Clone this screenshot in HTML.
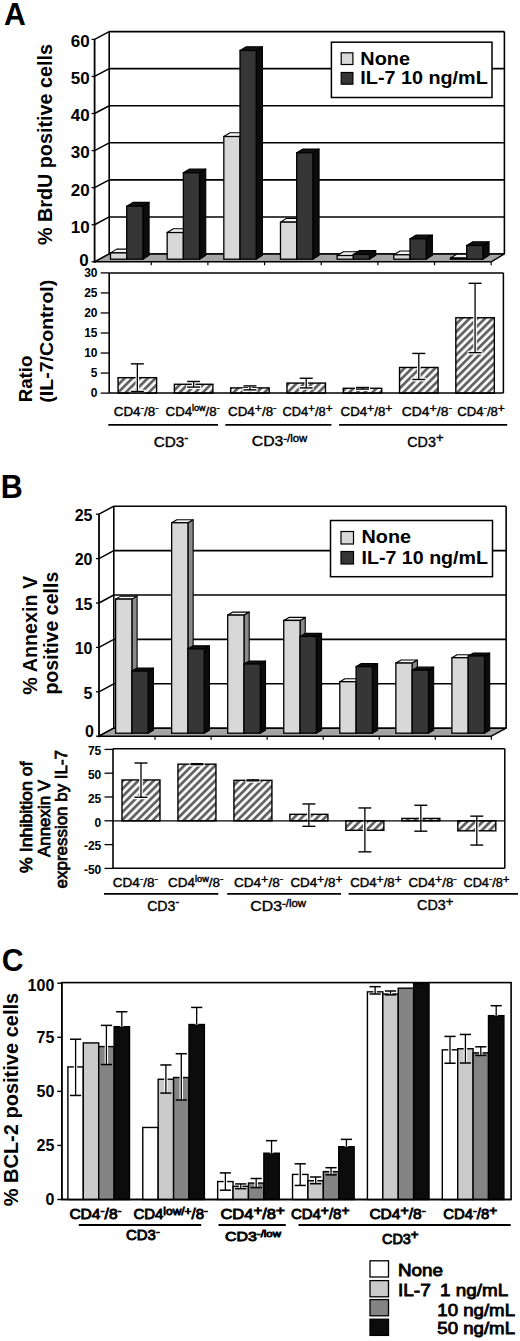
<!DOCTYPE html><html><head><meta charset="utf-8"><style>html,body{margin:0;padding:0;background:#fff;}svg{display:block;font-family:"Liberation Sans", sans-serif;}</style></head><body>
<svg width="520" height="1341" viewBox="0 0 520 1341" font-family="&quot;Liberation Sans&quot;, sans-serif">
<defs><pattern id="hatch" patternUnits="userSpaceOnUse" width="5.45" height="5.45" patternTransform="rotate(45)"><rect width="5.45" height="5.45" fill="#f6f6f6"/><rect width="2.6" height="5.45" fill="#5e5e5e"/></pattern></defs>
<rect width="520" height="1341" fill="#fff"/>
<text x="4" y="25" font-size="32" font-weight="bold" text-anchor="start" textLength="21.8" lengthAdjust="spacingAndGlyphs">A</text>
<text transform="translate(51.8,144.6) rotate(-90)" x="0" y="0" font-size="19.5" font-weight="bold" text-anchor="middle" textLength="201" lengthAdjust="spacingAndGlyphs">% BrdU positive cells</text>
<rect x="109.2" y="31.58" width="395.2" height="222.42" fill="#fff"/>
<line x1="109.2" y1="254" x2="504.4" y2="254" stroke="#000" stroke-width="1.6"/>
<line x1="94.6" y1="261.8" x2="109.2" y2="254" stroke="#000" stroke-width="1.5"/>
<line x1="91.6" y1="261.8" x2="94.6" y2="261.8" stroke="#000" stroke-width="1.3"/>
<text x="88.6" y="266.39" font-size="17" font-weight="bold" text-anchor="end" >0</text>
<line x1="109.2" y1="216.93" x2="504.4" y2="216.93" stroke="#000" stroke-width="1.6"/>
<line x1="94.6" y1="224.73" x2="109.2" y2="216.93" stroke="#000" stroke-width="1.5"/>
<line x1="91.6" y1="224.73" x2="94.6" y2="224.73" stroke="#000" stroke-width="1.3"/>
<text x="89.6" y="232.62" font-size="17" font-weight="bold" text-anchor="end" >10</text>
<line x1="109.2" y1="179.86" x2="504.4" y2="179.86" stroke="#000" stroke-width="1.6"/>
<line x1="94.6" y1="187.66" x2="109.2" y2="179.86" stroke="#000" stroke-width="1.5"/>
<line x1="91.6" y1="187.66" x2="94.6" y2="187.66" stroke="#000" stroke-width="1.3"/>
<text x="89.6" y="195.55" font-size="17" font-weight="bold" text-anchor="end" >20</text>
<line x1="109.2" y1="142.79" x2="504.4" y2="142.79" stroke="#000" stroke-width="1.6"/>
<line x1="94.6" y1="150.59" x2="109.2" y2="142.79" stroke="#000" stroke-width="1.5"/>
<line x1="91.6" y1="150.59" x2="94.6" y2="150.59" stroke="#000" stroke-width="1.3"/>
<text x="89.6" y="158.48" font-size="17" font-weight="bold" text-anchor="end" >30</text>
<line x1="109.2" y1="105.72" x2="504.4" y2="105.72" stroke="#000" stroke-width="1.6"/>
<line x1="94.6" y1="113.52" x2="109.2" y2="105.72" stroke="#000" stroke-width="1.5"/>
<line x1="91.6" y1="113.52" x2="94.6" y2="113.52" stroke="#000" stroke-width="1.3"/>
<text x="89.6" y="121.41" font-size="17" font-weight="bold" text-anchor="end" >40</text>
<line x1="109.2" y1="68.65" x2="504.4" y2="68.65" stroke="#000" stroke-width="1.6"/>
<line x1="94.6" y1="76.45" x2="109.2" y2="68.65" stroke="#000" stroke-width="1.5"/>
<line x1="91.6" y1="76.45" x2="94.6" y2="76.45" stroke="#000" stroke-width="1.3"/>
<text x="89.6" y="84.34" font-size="17" font-weight="bold" text-anchor="end" >50</text>
<line x1="109.2" y1="31.58" x2="504.4" y2="31.58" stroke="#000" stroke-width="1.6"/>
<line x1="94.6" y1="39.38" x2="109.2" y2="31.58" stroke="#000" stroke-width="1.5"/>
<line x1="91.6" y1="39.38" x2="94.6" y2="39.38" stroke="#000" stroke-width="1.3"/>
<text x="89.6" y="47.27" font-size="17" font-weight="bold" text-anchor="end" >60</text>
<line x1="109.2" y1="31.58" x2="109.2" y2="254" stroke="#000" stroke-width="1.6"/>
<line x1="504.4" y1="31.58" x2="504.4" y2="254" stroke="#000" stroke-width="1.6"/>
<line x1="94.6" y1="39.38" x2="94.6" y2="262.8" stroke="#000" stroke-width="1.8"/>
<polygon points="94.6,261.8 491.22,261.8 504.4,254 109.2,254" fill="#a4a4a4" stroke="#000" stroke-width="1.4" stroke-linejoin="round"/>
<line x1="151.26" y1="261.8" x2="151.26" y2="265.3" stroke="#000" stroke-width="1.2"/>
<line x1="207.92" y1="261.8" x2="207.92" y2="265.3" stroke="#000" stroke-width="1.2"/>
<line x1="264.58" y1="261.8" x2="264.58" y2="265.3" stroke="#000" stroke-width="1.2"/>
<line x1="321.24" y1="261.8" x2="321.24" y2="265.3" stroke="#000" stroke-width="1.2"/>
<line x1="377.9" y1="261.8" x2="377.9" y2="265.3" stroke="#000" stroke-width="1.2"/>
<line x1="434.56" y1="261.8" x2="434.56" y2="265.3" stroke="#000" stroke-width="1.2"/>
<line x1="491.22" y1="261.8" x2="491.22" y2="265.3" stroke="#000" stroke-width="1.2"/>
<polygon points="126.7,259.2 132.9,255.4 132.9,249.1 126.7,252.9" fill="#8a8a8a" stroke="#000" stroke-width="1.1" stroke-linejoin="round"/>
<polygon points="110.5,252.9 116.7,249.1 132.9,249.1 126.7,252.9" fill="#f4f4f4" stroke="#000" stroke-width="1.1" stroke-linejoin="round"/>
<rect x="110.5" y="252.9" width="16.2" height="6.3" fill="#d8d8d8" stroke="#000" stroke-width="1.3"/>
<polygon points="142.9,259.2 149.1,255.4 149.1,202.39 142.9,206.19" fill="#0c0c0c" stroke="#000" stroke-width="1.1" stroke-linejoin="round"/>
<polygon points="126.7,206.19 132.9,202.39 149.1,202.39 142.9,206.19" fill="#111" stroke="#000" stroke-width="1.1" stroke-linejoin="round"/>
<rect x="126.7" y="206.19" width="16.2" height="53.01" fill="#363636" stroke="#000" stroke-width="1.3"/>
<polygon points="183.36,259.2 189.56,255.4 189.56,228.71 183.36,232.51" fill="#8a8a8a" stroke="#000" stroke-width="1.1" stroke-linejoin="round"/>
<polygon points="167.16,232.51 173.36,228.71 189.56,228.71 183.36,232.51" fill="#f4f4f4" stroke="#000" stroke-width="1.1" stroke-linejoin="round"/>
<rect x="167.16" y="232.51" width="16.2" height="26.69" fill="#d8d8d8" stroke="#000" stroke-width="1.3"/>
<polygon points="199.56,259.2 205.76,255.4 205.76,169.03 199.56,172.83" fill="#0c0c0c" stroke="#000" stroke-width="1.1" stroke-linejoin="round"/>
<polygon points="183.36,172.83 189.56,169.03 205.76,169.03 199.56,172.83" fill="#111" stroke="#000" stroke-width="1.1" stroke-linejoin="round"/>
<rect x="183.36" y="172.83" width="16.2" height="86.37" fill="#363636" stroke="#000" stroke-width="1.3"/>
<polygon points="240.02,259.2 246.22,255.4 246.22,132.7 240.02,136.5" fill="#8a8a8a" stroke="#000" stroke-width="1.1" stroke-linejoin="round"/>
<polygon points="223.82,136.5 230.02,132.7 246.22,132.7 240.02,136.5" fill="#f4f4f4" stroke="#000" stroke-width="1.1" stroke-linejoin="round"/>
<rect x="223.82" y="136.5" width="16.2" height="122.7" fill="#d8d8d8" stroke="#000" stroke-width="1.3"/>
<polygon points="256.22,259.2 262.42,255.4 262.42,46.7 256.22,50.5" fill="#0c0c0c" stroke="#000" stroke-width="1.1" stroke-linejoin="round"/>
<polygon points="240.02,50.5 246.22,46.7 262.42,46.7 256.22,50.5" fill="#111" stroke="#000" stroke-width="1.1" stroke-linejoin="round"/>
<rect x="240.02" y="50.5" width="16.2" height="208.7" fill="#363636" stroke="#000" stroke-width="1.3"/>
<polygon points="296.68,259.2 302.88,255.4 302.88,218.33 296.68,222.13" fill="#8a8a8a" stroke="#000" stroke-width="1.1" stroke-linejoin="round"/>
<polygon points="280.48,222.13 286.68,218.33 302.88,218.33 296.68,222.13" fill="#f4f4f4" stroke="#000" stroke-width="1.1" stroke-linejoin="round"/>
<rect x="280.48" y="222.13" width="16.2" height="37.07" fill="#d8d8d8" stroke="#000" stroke-width="1.3"/>
<polygon points="312.88,259.2 319.08,255.4 319.08,149.01 312.88,152.81" fill="#0c0c0c" stroke="#000" stroke-width="1.1" stroke-linejoin="round"/>
<polygon points="296.68,152.81 302.88,149.01 319.08,149.01 312.88,152.81" fill="#111" stroke="#000" stroke-width="1.1" stroke-linejoin="round"/>
<rect x="296.68" y="152.81" width="16.2" height="106.39" fill="#363636" stroke="#000" stroke-width="1.3"/>
<polygon points="353.34,259.2 359.54,255.4 359.54,251.69 353.34,255.49" fill="#8a8a8a" stroke="#000" stroke-width="1.1" stroke-linejoin="round"/>
<polygon points="337.14,255.49 343.34,251.69 359.54,251.69 353.34,255.49" fill="#f4f4f4" stroke="#000" stroke-width="1.1" stroke-linejoin="round"/>
<rect x="337.14" y="255.49" width="16.2" height="3.71" fill="#d8d8d8" stroke="#000" stroke-width="1.3"/>
<polygon points="369.54,259.2 375.74,255.4 375.74,250.58 369.54,254.38" fill="#0c0c0c" stroke="#000" stroke-width="1.1" stroke-linejoin="round"/>
<polygon points="353.34,254.38 359.54,250.58 375.74,250.58 369.54,254.38" fill="#111" stroke="#000" stroke-width="1.1" stroke-linejoin="round"/>
<rect x="353.34" y="254.38" width="16.2" height="4.82" fill="#363636" stroke="#000" stroke-width="1.3"/>
<polygon points="410,259.2 416.2,255.4 416.2,250.95 410,254.75" fill="#8a8a8a" stroke="#000" stroke-width="1.1" stroke-linejoin="round"/>
<polygon points="393.8,254.75 400,250.95 416.2,250.95 410,254.75" fill="#f4f4f4" stroke="#000" stroke-width="1.1" stroke-linejoin="round"/>
<rect x="393.8" y="254.75" width="16.2" height="4.45" fill="#d8d8d8" stroke="#000" stroke-width="1.3"/>
<polygon points="426.2,259.2 432.4,255.4 432.4,235.01 426.2,238.81" fill="#0c0c0c" stroke="#000" stroke-width="1.1" stroke-linejoin="round"/>
<polygon points="410,238.81 416.2,235.01 432.4,235.01 426.2,238.81" fill="#111" stroke="#000" stroke-width="1.1" stroke-linejoin="round"/>
<rect x="410" y="238.81" width="16.2" height="20.39" fill="#363636" stroke="#000" stroke-width="1.3"/>
<polygon points="466.66,259.2 472.86,255.4 472.86,254.29 466.66,258.09" fill="#8a8a8a" stroke="#000" stroke-width="1.1" stroke-linejoin="round"/>
<polygon points="450.46,258.09 456.66,254.29 472.86,254.29 466.66,258.09" fill="#f4f4f4" stroke="#000" stroke-width="1.1" stroke-linejoin="round"/>
<rect x="450.46" y="258.09" width="16.2" height="1.11" fill="#d8d8d8" stroke="#000" stroke-width="1.3"/>
<polygon points="482.86,259.2 489.06,255.4 489.06,241.68 482.86,245.48" fill="#0c0c0c" stroke="#000" stroke-width="1.1" stroke-linejoin="round"/>
<polygon points="466.66,245.48 472.86,241.68 489.06,241.68 482.86,245.48" fill="#111" stroke="#000" stroke-width="1.1" stroke-linejoin="round"/>
<rect x="466.66" y="245.48" width="16.2" height="13.72" fill="#363636" stroke="#000" stroke-width="1.3"/>
<rect x="331.4" y="42.2" width="160.6" height="55.3" fill="#fff" stroke="#000" stroke-width="1.5"/>
<rect x="341.2" y="52.8" width="11.7" height="11.7" fill="#d8d8d8" stroke="#000" stroke-width="1.2"/>
<rect x="341.2" y="72.5" width="11.7" height="11.7" fill="#363636" stroke="#000" stroke-width="1.2"/>
<text x="360.3" y="64.6" font-size="19" font-weight="bold" text-anchor="start" textLength="49.7" lengthAdjust="spacingAndGlyphs">None</text>
<text x="360.3" y="84.3" font-size="19" font-weight="bold" text-anchor="start" textLength="127.5" lengthAdjust="spacingAndGlyphs">IL-7 10 ng/mL</text>
<text transform="translate(31.5,379) rotate(-90)" x="0" y="0" font-size="19" font-weight="bold" text-anchor="middle" textLength="46.7" lengthAdjust="spacingAndGlyphs">Ratio</text>
<text transform="translate(53.3,341.3) rotate(-90)" x="0" y="0" font-size="19" font-weight="bold" text-anchor="middle" textLength="123" lengthAdjust="spacingAndGlyphs">(IL-7/Control)</text>
<rect x="109.2" y="272.9" width="394.2" height="120.2" fill="#fff" stroke="none"/>
<line x1="100.7" y1="393.1" x2="109.2" y2="393.1" stroke="#000" stroke-width="1.3"/>
<text x="97.5" y="397.42" font-size="12" font-weight="bold" text-anchor="end" >0</text>
<line x1="100.7" y1="373.07" x2="109.2" y2="373.07" stroke="#000" stroke-width="1.3"/>
<text x="97.5" y="377.39" font-size="12" font-weight="bold" text-anchor="end" >5</text>
<line x1="100.7" y1="353.03" x2="109.2" y2="353.03" stroke="#000" stroke-width="1.3"/>
<text x="97.5" y="357.35" font-size="12" font-weight="bold" text-anchor="end" >10</text>
<line x1="100.7" y1="333" x2="109.2" y2="333" stroke="#000" stroke-width="1.3"/>
<text x="97.5" y="337.31" font-size="12" font-weight="bold" text-anchor="end" >15</text>
<line x1="100.7" y1="312.96" x2="109.2" y2="312.96" stroke="#000" stroke-width="1.3"/>
<text x="97.5" y="317.28" font-size="12" font-weight="bold" text-anchor="end" >20</text>
<line x1="100.7" y1="292.93" x2="109.2" y2="292.93" stroke="#000" stroke-width="1.3"/>
<text x="97.5" y="297.25" font-size="12" font-weight="bold" text-anchor="end" >25</text>
<line x1="100.7" y1="272.89" x2="109.2" y2="272.89" stroke="#000" stroke-width="1.3"/>
<text x="97.5" y="277.21" font-size="12" font-weight="bold" text-anchor="end" >30</text>
<rect x="118.09" y="377.67" width="38.5" height="15.43" fill="url(#hatch)" stroke="#000" stroke-width="1.4"/>
<line x1="137.34" y1="363.85" x2="137.34" y2="391.5" stroke="#fff" stroke-width="3.6"/>
<line x1="129.84" y1="391.5" x2="144.84" y2="391.5" stroke="#fff" stroke-width="3.8"/>
<line x1="137.34" y1="363.85" x2="137.34" y2="391.5" stroke="#000" stroke-width="1.3"/>
<line x1="130.84" y1="363.85" x2="143.84" y2="363.85" stroke="#000" stroke-width="1.4"/>
<line x1="130.84" y1="391.5" x2="143.84" y2="391.5" stroke="#000" stroke-width="1.4"/>
<rect x="174.38" y="384.28" width="38.5" height="8.82" fill="url(#hatch)" stroke="#000" stroke-width="1.4"/>
<line x1="193.63" y1="381.48" x2="193.63" y2="387.09" stroke="#fff" stroke-width="3.6"/>
<line x1="186.13" y1="387.09" x2="201.13" y2="387.09" stroke="#fff" stroke-width="3.8"/>
<line x1="193.63" y1="381.48" x2="193.63" y2="387.09" stroke="#000" stroke-width="1.3"/>
<line x1="187.13" y1="381.48" x2="200.13" y2="381.48" stroke="#000" stroke-width="1.4"/>
<line x1="187.13" y1="387.09" x2="200.13" y2="387.09" stroke="#000" stroke-width="1.4"/>
<rect x="230.68" y="387.89" width="38.5" height="5.21" fill="url(#hatch)" stroke="#000" stroke-width="1.4"/>
<line x1="249.93" y1="385.89" x2="249.93" y2="389.89" stroke="#fff" stroke-width="3.6"/>
<line x1="242.43" y1="389.89" x2="257.43" y2="389.89" stroke="#fff" stroke-width="3.8"/>
<line x1="249.93" y1="385.89" x2="249.93" y2="389.89" stroke="#000" stroke-width="1.3"/>
<line x1="243.43" y1="385.89" x2="256.43" y2="385.89" stroke="#000" stroke-width="1.4"/>
<line x1="243.43" y1="389.89" x2="256.43" y2="389.89" stroke="#000" stroke-width="1.4"/>
<rect x="286.96" y="383.08" width="38.5" height="10.02" fill="url(#hatch)" stroke="#000" stroke-width="1.4"/>
<line x1="306.21" y1="378.27" x2="306.21" y2="387.89" stroke="#fff" stroke-width="3.6"/>
<line x1="298.71" y1="387.89" x2="313.71" y2="387.89" stroke="#fff" stroke-width="3.8"/>
<line x1="306.21" y1="378.27" x2="306.21" y2="387.89" stroke="#000" stroke-width="1.3"/>
<line x1="299.71" y1="378.27" x2="312.71" y2="378.27" stroke="#000" stroke-width="1.4"/>
<line x1="299.71" y1="387.89" x2="312.71" y2="387.89" stroke="#000" stroke-width="1.4"/>
<rect x="343.25" y="388.29" width="38.5" height="4.81" fill="url(#hatch)" stroke="#000" stroke-width="1.4"/>
<line x1="362.5" y1="387.49" x2="362.5" y2="389.09" stroke="#fff" stroke-width="3.6"/>
<line x1="355" y1="389.09" x2="370" y2="389.09" stroke="#fff" stroke-width="3.8"/>
<line x1="362.5" y1="387.49" x2="362.5" y2="389.09" stroke="#000" stroke-width="1.3"/>
<line x1="356" y1="387.49" x2="369" y2="387.49" stroke="#000" stroke-width="1.4"/>
<line x1="356" y1="389.09" x2="369" y2="389.09" stroke="#000" stroke-width="1.4"/>
<rect x="399.54" y="367.46" width="38.5" height="25.64" fill="url(#hatch)" stroke="#000" stroke-width="1.4"/>
<line x1="418.79" y1="353.43" x2="418.79" y2="379.48" stroke="#fff" stroke-width="3.6"/>
<line x1="411.29" y1="379.48" x2="426.29" y2="379.48" stroke="#fff" stroke-width="3.8"/>
<line x1="418.79" y1="353.43" x2="418.79" y2="379.48" stroke="#000" stroke-width="1.3"/>
<line x1="412.29" y1="353.43" x2="425.29" y2="353.43" stroke="#000" stroke-width="1.4"/>
<line x1="412.29" y1="379.48" x2="425.29" y2="379.48" stroke="#000" stroke-width="1.4"/>
<rect x="455.83" y="317.77" width="38.5" height="75.33" fill="url(#hatch)" stroke="#000" stroke-width="1.4"/>
<line x1="475.08" y1="283.31" x2="475.08" y2="352.63" stroke="#fff" stroke-width="3.6"/>
<line x1="467.58" y1="352.63" x2="482.58" y2="352.63" stroke="#fff" stroke-width="3.8"/>
<line x1="475.08" y1="283.31" x2="475.08" y2="352.63" stroke="#000" stroke-width="1.3"/>
<line x1="468.58" y1="283.31" x2="481.58" y2="283.31" stroke="#000" stroke-width="1.4"/>
<line x1="468.58" y1="352.63" x2="481.58" y2="352.63" stroke="#000" stroke-width="1.4"/>
<line x1="109.2" y1="272.9" x2="503.4" y2="272.9" stroke="#000" stroke-width="1.5"/>
<line x1="503.4" y1="272.9" x2="503.4" y2="393.1" stroke="#000" stroke-width="1.5"/>
<line x1="109.2" y1="393.1" x2="503.4" y2="393.1" stroke="#000" stroke-width="1.5"/>
<line x1="109.2" y1="272.9" x2="109.2" y2="393.1" stroke="#000" stroke-width="1.6"/>
<text x="0.8" y="498" font-size="32.5" font-weight="bold" text-anchor="start" textLength="22" lengthAdjust="spacingAndGlyphs">B</text>
<text transform="translate(36.7,635.2) rotate(-90)" x="0" y="0" font-size="19.5" font-weight="bold" text-anchor="middle" textLength="119" lengthAdjust="spacingAndGlyphs">% Annexin V</text>
<text transform="translate(57.7,633.1) rotate(-90)" x="0" y="0" font-size="19.5" font-weight="bold" text-anchor="middle" textLength="123" lengthAdjust="spacingAndGlyphs">positive cells</text>
<rect x="113.8" y="506.2" width="392.35" height="222" fill="#fff"/>
<line x1="113.8" y1="728.2" x2="506.15" y2="728.2" stroke="#000" stroke-width="1.6"/>
<line x1="99" y1="736.2" x2="113.8" y2="728.2" stroke="#000" stroke-width="1.5"/>
<line x1="96" y1="736.2" x2="99" y2="736.2" stroke="#000" stroke-width="1.3"/>
<text x="94" y="736.73" font-size="16" font-weight="bold" text-anchor="end" >0</text>
<line x1="113.8" y1="683.8" x2="506.15" y2="683.8" stroke="#000" stroke-width="1.6"/>
<line x1="99" y1="691.8" x2="113.8" y2="683.8" stroke="#000" stroke-width="1.5"/>
<line x1="96" y1="691.8" x2="99" y2="691.8" stroke="#000" stroke-width="1.3"/>
<text x="92.5" y="698.53" font-size="16" font-weight="bold" text-anchor="end" >5</text>
<line x1="113.8" y1="639.4" x2="506.15" y2="639.4" stroke="#000" stroke-width="1.6"/>
<line x1="99" y1="647.4" x2="113.8" y2="639.4" stroke="#000" stroke-width="1.5"/>
<line x1="96" y1="647.4" x2="99" y2="647.4" stroke="#000" stroke-width="1.3"/>
<text x="92.5" y="654.13" font-size="16" font-weight="bold" text-anchor="end" >10</text>
<line x1="113.8" y1="595" x2="506.15" y2="595" stroke="#000" stroke-width="1.6"/>
<line x1="99" y1="603" x2="113.8" y2="595" stroke="#000" stroke-width="1.5"/>
<line x1="96" y1="603" x2="99" y2="603" stroke="#000" stroke-width="1.3"/>
<text x="92.5" y="609.73" font-size="16" font-weight="bold" text-anchor="end" >15</text>
<line x1="113.8" y1="550.6" x2="506.15" y2="550.6" stroke="#000" stroke-width="1.6"/>
<line x1="99" y1="558.6" x2="113.8" y2="550.6" stroke="#000" stroke-width="1.5"/>
<line x1="96" y1="558.6" x2="99" y2="558.6" stroke="#000" stroke-width="1.3"/>
<text x="92.5" y="565.33" font-size="16" font-weight="bold" text-anchor="end" >20</text>
<line x1="113.8" y1="506.2" x2="506.15" y2="506.2" stroke="#000" stroke-width="1.6"/>
<line x1="99" y1="514.2" x2="113.8" y2="506.2" stroke="#000" stroke-width="1.5"/>
<line x1="96" y1="514.2" x2="99" y2="514.2" stroke="#000" stroke-width="1.3"/>
<text x="92.5" y="520.93" font-size="16" font-weight="bold" text-anchor="end" >25</text>
<line x1="113.8" y1="506.2" x2="113.8" y2="728.2" stroke="#000" stroke-width="1.6"/>
<line x1="506.15" y1="506.2" x2="506.15" y2="728.2" stroke="#000" stroke-width="1.6"/>
<line x1="99" y1="514.2" x2="99" y2="737.2" stroke="#000" stroke-width="1.8"/>
<polygon points="99,736.2 491.35,736.2 506.15,728.2 113.8,728.2" fill="#a4a4a4" stroke="#000" stroke-width="1.4" stroke-linejoin="round"/>
<line x1="155.05" y1="736.2" x2="155.05" y2="739.7" stroke="#000" stroke-width="1.2"/>
<line x1="211.1" y1="736.2" x2="211.1" y2="739.7" stroke="#000" stroke-width="1.2"/>
<line x1="267.15" y1="736.2" x2="267.15" y2="739.7" stroke="#000" stroke-width="1.2"/>
<line x1="323.2" y1="736.2" x2="323.2" y2="739.7" stroke="#000" stroke-width="1.2"/>
<line x1="379.25" y1="736.2" x2="379.25" y2="739.7" stroke="#000" stroke-width="1.2"/>
<line x1="435.3" y1="736.2" x2="435.3" y2="739.7" stroke="#000" stroke-width="1.2"/>
<line x1="491.35" y1="736.2" x2="491.35" y2="739.7" stroke="#000" stroke-width="1.2"/>
<polygon points="131.9,733.2 137.1,730.2 137.1,596.11 131.9,599.11" fill="#8a8a8a" stroke="#000" stroke-width="1.1" stroke-linejoin="round"/>
<polygon points="115.6,599.11 120.8,596.11 137.1,596.11 131.9,599.11" fill="#f4f4f4" stroke="#000" stroke-width="1.1" stroke-linejoin="round"/>
<rect x="115.6" y="599.11" width="16.3" height="134.09" fill="#d8d8d8" stroke="#000" stroke-width="1.3"/>
<polygon points="148.2,733.2 153.4,730.2 153.4,668.04 148.2,671.04" fill="#0c0c0c" stroke="#000" stroke-width="1.1" stroke-linejoin="round"/>
<polygon points="131.9,671.04 137.1,668.04 153.4,668.04 148.2,671.04" fill="#111" stroke="#000" stroke-width="1.1" stroke-linejoin="round"/>
<rect x="131.9" y="671.04" width="16.3" height="62.16" fill="#363636" stroke="#000" stroke-width="1.3"/>
<polygon points="187.95,733.2 193.15,730.2 193.15,519.74 187.95,522.74" fill="#8a8a8a" stroke="#000" stroke-width="1.1" stroke-linejoin="round"/>
<polygon points="171.65,522.74 176.85,519.74 193.15,519.74 187.95,522.74" fill="#f4f4f4" stroke="#000" stroke-width="1.1" stroke-linejoin="round"/>
<rect x="171.65" y="522.74" width="16.3" height="210.46" fill="#d8d8d8" stroke="#000" stroke-width="1.3"/>
<polygon points="204.25,733.2 209.45,730.2 209.45,645.84 204.25,648.84" fill="#0c0c0c" stroke="#000" stroke-width="1.1" stroke-linejoin="round"/>
<polygon points="187.95,648.84 193.15,645.84 209.45,645.84 204.25,648.84" fill="#111" stroke="#000" stroke-width="1.1" stroke-linejoin="round"/>
<rect x="187.95" y="648.84" width="16.3" height="84.36" fill="#363636" stroke="#000" stroke-width="1.3"/>
<polygon points="244,733.2 249.2,730.2 249.2,612.1 244,615.1" fill="#8a8a8a" stroke="#000" stroke-width="1.1" stroke-linejoin="round"/>
<polygon points="227.7,615.1 232.9,612.1 249.2,612.1 244,615.1" fill="#f4f4f4" stroke="#000" stroke-width="1.1" stroke-linejoin="round"/>
<rect x="227.7" y="615.1" width="16.3" height="118.1" fill="#d8d8d8" stroke="#000" stroke-width="1.3"/>
<polygon points="260.3,733.2 265.5,730.2 265.5,660.94 260.3,663.94" fill="#0c0c0c" stroke="#000" stroke-width="1.1" stroke-linejoin="round"/>
<polygon points="244,663.94 249.2,660.94 265.5,660.94 260.3,663.94" fill="#111" stroke="#000" stroke-width="1.1" stroke-linejoin="round"/>
<rect x="244" y="663.94" width="16.3" height="69.26" fill="#363636" stroke="#000" stroke-width="1.3"/>
<polygon points="300.05,733.2 305.25,730.2 305.25,617.42 300.05,620.42" fill="#8a8a8a" stroke="#000" stroke-width="1.1" stroke-linejoin="round"/>
<polygon points="283.75,620.42 288.95,617.42 305.25,617.42 300.05,620.42" fill="#f4f4f4" stroke="#000" stroke-width="1.1" stroke-linejoin="round"/>
<rect x="283.75" y="620.42" width="16.3" height="112.78" fill="#d8d8d8" stroke="#000" stroke-width="1.3"/>
<polygon points="316.35,733.2 321.55,730.2 321.55,633.41 316.35,636.41" fill="#0c0c0c" stroke="#000" stroke-width="1.1" stroke-linejoin="round"/>
<polygon points="300.05,636.41 305.25,633.41 321.55,633.41 316.35,636.41" fill="#111" stroke="#000" stroke-width="1.1" stroke-linejoin="round"/>
<rect x="300.05" y="636.41" width="16.3" height="96.79" fill="#363636" stroke="#000" stroke-width="1.3"/>
<polygon points="356.1,733.2 361.3,730.2 361.3,678.7 356.1,681.7" fill="#8a8a8a" stroke="#000" stroke-width="1.1" stroke-linejoin="round"/>
<polygon points="339.8,681.7 345,678.7 361.3,678.7 356.1,681.7" fill="#f4f4f4" stroke="#000" stroke-width="1.1" stroke-linejoin="round"/>
<rect x="339.8" y="681.7" width="16.3" height="51.5" fill="#d8d8d8" stroke="#000" stroke-width="1.3"/>
<polygon points="372.4,733.2 377.6,730.2 377.6,663.6 372.4,666.6" fill="#0c0c0c" stroke="#000" stroke-width="1.1" stroke-linejoin="round"/>
<polygon points="356.1,666.6 361.3,663.6 377.6,663.6 372.4,666.6" fill="#111" stroke="#000" stroke-width="1.1" stroke-linejoin="round"/>
<rect x="356.1" y="666.6" width="16.3" height="66.6" fill="#363636" stroke="#000" stroke-width="1.3"/>
<polygon points="412.15,733.2 417.35,730.2 417.35,660.05 412.15,663.05" fill="#8a8a8a" stroke="#000" stroke-width="1.1" stroke-linejoin="round"/>
<polygon points="395.85,663.05 401.05,660.05 417.35,660.05 412.15,663.05" fill="#f4f4f4" stroke="#000" stroke-width="1.1" stroke-linejoin="round"/>
<rect x="395.85" y="663.05" width="16.3" height="70.15" fill="#d8d8d8" stroke="#000" stroke-width="1.3"/>
<polygon points="428.45,733.2 433.65,730.2 433.65,667.15 428.45,670.15" fill="#0c0c0c" stroke="#000" stroke-width="1.1" stroke-linejoin="round"/>
<polygon points="412.15,670.15 417.35,667.15 433.65,667.15 428.45,670.15" fill="#111" stroke="#000" stroke-width="1.1" stroke-linejoin="round"/>
<rect x="412.15" y="670.15" width="16.3" height="63.05" fill="#363636" stroke="#000" stroke-width="1.3"/>
<polygon points="468.2,733.2 473.4,730.2 473.4,654.72 468.2,657.72" fill="#8a8a8a" stroke="#000" stroke-width="1.1" stroke-linejoin="round"/>
<polygon points="451.9,657.72 457.1,654.72 473.4,654.72 468.2,657.72" fill="#f4f4f4" stroke="#000" stroke-width="1.1" stroke-linejoin="round"/>
<rect x="451.9" y="657.72" width="16.3" height="75.48" fill="#d8d8d8" stroke="#000" stroke-width="1.3"/>
<polygon points="484.5,733.2 489.7,730.2 489.7,652.94 484.5,655.94" fill="#0c0c0c" stroke="#000" stroke-width="1.1" stroke-linejoin="round"/>
<polygon points="468.2,655.94 473.4,652.94 489.7,652.94 484.5,655.94" fill="#111" stroke="#000" stroke-width="1.1" stroke-linejoin="round"/>
<rect x="468.2" y="655.94" width="16.3" height="77.26" fill="#363636" stroke="#000" stroke-width="1.3"/>
<rect x="330.5" y="520.5" width="162" height="56.2" fill="#fff" stroke="#000" stroke-width="1.5"/>
<rect x="341" y="531.5" width="12.5" height="12.5" fill="#d8d8d8" stroke="#000" stroke-width="1.2"/>
<rect x="341" y="551.5" width="12.5" height="12.5" fill="#363636" stroke="#000" stroke-width="1.2"/>
<text x="361.5" y="542.9" font-size="19" font-weight="bold" text-anchor="start" textLength="49.5" lengthAdjust="spacingAndGlyphs">None</text>
<text x="361.5" y="563.5" font-size="19" font-weight="bold" text-anchor="start" textLength="126.5" lengthAdjust="spacingAndGlyphs">IL-7 10 ng/mL</text>
<text transform="translate(32.4,817.2) rotate(-90)" x="0" y="0" font-size="16" font-weight="normal" stroke="#000" stroke-width="0.75" text-anchor="middle" textLength="111.5" lengthAdjust="spacingAndGlyphs">% Inhibition of</text>
<text transform="translate(50,818.5) rotate(-90)" x="0" y="0" font-size="16" font-weight="normal" stroke="#000" stroke-width="0.75" text-anchor="middle" textLength="76.9" lengthAdjust="spacingAndGlyphs">Annexin V</text>
<text transform="translate(66.6,819.2) rotate(-90)" x="0" y="0" font-size="16" font-weight="normal" stroke="#000" stroke-width="0.75" text-anchor="middle" textLength="138.5" lengthAdjust="spacingAndGlyphs">expression by IL-7</text>
<rect x="113" y="748.8" width="391.8" height="119.5" fill="#fff" stroke="none"/>
<line x1="104.5" y1="749.4" x2="113" y2="749.4" stroke="#000" stroke-width="1.3"/>
<text x="101.3" y="755.22" font-size="12" font-weight="bold" text-anchor="end" >75</text>
<line x1="104.5" y1="773.2" x2="113" y2="773.2" stroke="#000" stroke-width="1.3"/>
<text x="101.3" y="779.02" font-size="12" font-weight="bold" text-anchor="end" >50</text>
<line x1="104.5" y1="797" x2="113" y2="797" stroke="#000" stroke-width="1.3"/>
<text x="101.3" y="802.82" font-size="12" font-weight="bold" text-anchor="end" >25</text>
<line x1="104.5" y1="820.8" x2="113" y2="820.8" stroke="#000" stroke-width="1.3"/>
<text x="101.3" y="826.62" font-size="12" font-weight="bold" text-anchor="end" >0</text>
<line x1="104.5" y1="844.6" x2="113" y2="844.6" stroke="#000" stroke-width="1.3"/>
<text x="101.3" y="850.42" font-size="12" font-weight="bold" text-anchor="end" >-25</text>
<line x1="104.5" y1="868.4" x2="113" y2="868.4" stroke="#000" stroke-width="1.3"/>
<text x="101.3" y="874.22" font-size="12" font-weight="bold" text-anchor="end" >-50</text>
<rect x="121.99" y="779.96" width="38" height="40.84" fill="url(#hatch)" stroke="#000" stroke-width="1.4"/>
<line x1="140.99" y1="763.01" x2="140.99" y2="797.29" stroke="#fff" stroke-width="3.6"/>
<line x1="133.49" y1="797.29" x2="148.49" y2="797.29" stroke="#fff" stroke-width="3.8"/>
<line x1="140.99" y1="763.01" x2="140.99" y2="797.29" stroke="#000" stroke-width="1.3"/>
<line x1="134.49" y1="763.01" x2="147.49" y2="763.01" stroke="#000" stroke-width="1.4"/>
<line x1="134.49" y1="797.29" x2="147.49" y2="797.29" stroke="#000" stroke-width="1.4"/>
<rect x="177.95" y="764.16" width="38" height="56.64" fill="url(#hatch)" stroke="#000" stroke-width="1.4"/>
<line x1="196.95" y1="763.68" x2="196.95" y2="764.63" stroke="#fff" stroke-width="3.6"/>
<line x1="189.45" y1="764.63" x2="204.45" y2="764.63" stroke="#fff" stroke-width="3.8"/>
<line x1="196.95" y1="763.68" x2="196.95" y2="764.63" stroke="#000" stroke-width="1.3"/>
<line x1="190.45" y1="763.68" x2="203.45" y2="763.68" stroke="#000" stroke-width="1.4"/>
<line x1="190.45" y1="764.63" x2="203.45" y2="764.63" stroke="#000" stroke-width="1.4"/>
<rect x="233.93" y="780.34" width="38" height="40.46" fill="url(#hatch)" stroke="#000" stroke-width="1.4"/>
<line x1="252.93" y1="779.86" x2="252.93" y2="780.82" stroke="#fff" stroke-width="3.6"/>
<line x1="245.43" y1="780.82" x2="260.43" y2="780.82" stroke="#fff" stroke-width="3.8"/>
<line x1="252.93" y1="779.86" x2="252.93" y2="780.82" stroke="#000" stroke-width="1.3"/>
<line x1="246.43" y1="779.86" x2="259.43" y2="779.86" stroke="#000" stroke-width="1.4"/>
<line x1="246.43" y1="780.82" x2="259.43" y2="780.82" stroke="#000" stroke-width="1.4"/>
<rect x="289.89" y="814.33" width="38" height="6.47" fill="url(#hatch)" stroke="#000" stroke-width="1.4"/>
<line x1="308.89" y1="803.95" x2="308.89" y2="826.32" stroke="#fff" stroke-width="3.6"/>
<line x1="301.39" y1="826.32" x2="316.39" y2="826.32" stroke="#fff" stroke-width="3.8"/>
<line x1="308.89" y1="803.95" x2="308.89" y2="826.32" stroke="#000" stroke-width="1.3"/>
<line x1="302.39" y1="803.95" x2="315.39" y2="803.95" stroke="#000" stroke-width="1.4"/>
<line x1="302.39" y1="826.32" x2="315.39" y2="826.32" stroke="#000" stroke-width="1.4"/>
<rect x="345.87" y="820.8" width="38" height="9.52" fill="url(#hatch)" stroke="#000" stroke-width="1.4"/>
<line x1="364.87" y1="807.95" x2="364.87" y2="851.84" stroke="#fff" stroke-width="3.6"/>
<line x1="357.37" y1="851.84" x2="372.37" y2="851.84" stroke="#fff" stroke-width="3.8"/>
<line x1="364.87" y1="807.95" x2="364.87" y2="851.84" stroke="#000" stroke-width="1.3"/>
<line x1="358.37" y1="807.95" x2="371.37" y2="807.95" stroke="#000" stroke-width="1.4"/>
<line x1="358.37" y1="851.84" x2="371.37" y2="851.84" stroke="#000" stroke-width="1.4"/>
<rect x="401.83" y="818.42" width="38" height="2.38" fill="url(#hatch)" stroke="#000" stroke-width="1.4"/>
<line x1="420.83" y1="805.28" x2="420.83" y2="831.18" stroke="#fff" stroke-width="3.6"/>
<line x1="413.33" y1="831.18" x2="428.33" y2="831.18" stroke="#fff" stroke-width="3.8"/>
<line x1="420.83" y1="805.28" x2="420.83" y2="831.18" stroke="#000" stroke-width="1.3"/>
<line x1="414.33" y1="805.28" x2="427.33" y2="805.28" stroke="#000" stroke-width="1.4"/>
<line x1="414.33" y1="831.18" x2="427.33" y2="831.18" stroke="#000" stroke-width="1.4"/>
<rect x="457.81" y="820.8" width="38" height="10" fill="url(#hatch)" stroke="#000" stroke-width="1.4"/>
<line x1="476.81" y1="816.14" x2="476.81" y2="845.08" stroke="#fff" stroke-width="3.6"/>
<line x1="469.31" y1="845.08" x2="484.31" y2="845.08" stroke="#fff" stroke-width="3.8"/>
<line x1="476.81" y1="816.14" x2="476.81" y2="845.08" stroke="#000" stroke-width="1.3"/>
<line x1="470.31" y1="816.14" x2="483.31" y2="816.14" stroke="#000" stroke-width="1.4"/>
<line x1="470.31" y1="845.08" x2="483.31" y2="845.08" stroke="#000" stroke-width="1.4"/>
<line x1="113" y1="748.8" x2="504.8" y2="748.8" stroke="#000" stroke-width="1.5"/>
<line x1="504.8" y1="748.8" x2="504.8" y2="868.3" stroke="#000" stroke-width="1.5"/>
<line x1="113" y1="868.3" x2="504.8" y2="868.3" stroke="#000" stroke-width="1.5"/>
<line x1="113" y1="748.8" x2="113" y2="868.3" stroke="#000" stroke-width="1.6"/>
<line x1="113" y1="820.8" x2="504.8" y2="820.8" stroke="#000" stroke-width="1.3"/>
<text x="113.7" y="416" font-size="12" font-weight="normal" stroke="#000" stroke-width="0.4" textLength="45.1" lengthAdjust="spacingAndGlyphs">CD4<tspan dy="-4.56" font-size="9.36">-</tspan><tspan dy="4.56" font-size="12">/8</tspan><tspan dy="-4.56" font-size="9.36">-</tspan></text>
<text x="165.6" y="416" font-size="12" font-weight="normal" stroke="#000" stroke-width="0.4" textLength="54.4" lengthAdjust="spacingAndGlyphs">CD4<tspan dy="-4.56" font-size="8.16">low</tspan><tspan dy="4.56" font-size="12">/8</tspan><tspan dy="-4.56" font-size="9.36">-</tspan></text>
<text x="228" y="416" font-size="12" font-weight="normal" stroke="#000" stroke-width="0.4" textLength="48.6" lengthAdjust="spacingAndGlyphs">CD4<tspan dy="-3.6" font-size="11.04">+</tspan><tspan dy="3.6" font-size="12">/8</tspan><tspan dy="-4.56" font-size="9.36">-</tspan></text>
<text x="282.4" y="416" font-size="12" font-weight="normal" stroke="#000" stroke-width="0.4" textLength="50.2" lengthAdjust="spacingAndGlyphs">CD4<tspan dy="-3.6" font-size="11.04">+</tspan><tspan dy="3.6" font-size="12">/8</tspan><tspan dy="-3.6" font-size="11.04">+</tspan></text>
<text x="340.6" y="416" font-size="12" font-weight="normal" stroke="#000" stroke-width="0.4" textLength="51.8" lengthAdjust="spacingAndGlyphs">CD4<tspan dy="-3.6" font-size="11.04">+</tspan><tspan dy="3.6" font-size="12">/8</tspan><tspan dy="-3.6" font-size="11.04">+</tspan></text>
<text x="401.7" y="416" font-size="12" font-weight="normal" stroke="#000" stroke-width="0.4" textLength="50.3" lengthAdjust="spacingAndGlyphs">CD4<tspan dy="-3.6" font-size="11.04">+</tspan><tspan dy="3.6" font-size="12">/8</tspan><tspan dy="-4.56" font-size="9.36">-</tspan></text>
<text x="457.3" y="416" font-size="12" font-weight="normal" stroke="#000" stroke-width="0.4" textLength="47.6" lengthAdjust="spacingAndGlyphs">CD4<tspan dy="-4.56" font-size="9.36">-</tspan><tspan dy="4.56" font-size="12">/8</tspan><tspan dy="-3.6" font-size="11.04">+</tspan></text>
<line x1="108.3" y1="424.9" x2="218" y2="424.9" stroke="#000" stroke-width="1.8"/>
<line x1="225.3" y1="424.9" x2="331.4" y2="424.9" stroke="#000" stroke-width="1.8"/>
<line x1="339.1" y1="424.9" x2="507.2" y2="424.9" stroke="#000" stroke-width="1.8"/>
<text x="153.7" y="446.6" font-size="14.2" font-weight="normal" stroke="#000" stroke-width="0.4" textLength="34.6" lengthAdjust="spacingAndGlyphs">CD3<tspan dy="-5.4" font-size="11.08">-</tspan></text>
<text x="251.8" y="445.8" font-size="14.2" font-weight="normal" stroke="#000" stroke-width="0.4" textLength="55.5" lengthAdjust="spacingAndGlyphs">CD3<tspan dy="-4.26" font-size="10.22">-/low</tspan></text>
<text x="407.3" y="446.6" font-size="14.2" font-weight="normal" stroke="#000" stroke-width="0.4" textLength="36.3" lengthAdjust="spacingAndGlyphs">CD3<tspan dy="-4.26" font-size="13.06">+</tspan></text>
<text x="112.7" y="886.8" font-size="12" font-weight="normal" stroke="#000" stroke-width="0.4" textLength="45.4" lengthAdjust="spacingAndGlyphs">CD4<tspan dy="-4.56" font-size="9.36">-</tspan><tspan dy="4.56" font-size="12">/8</tspan><tspan dy="-4.56" font-size="9.36">-</tspan></text>
<text x="168.1" y="886.8" font-size="12" font-weight="normal" stroke="#000" stroke-width="0.4" textLength="55.4" lengthAdjust="spacingAndGlyphs">CD4<tspan dy="-4.56" font-size="8.16">low</tspan><tspan dy="4.56" font-size="12">/8</tspan><tspan dy="-4.56" font-size="9.36">-</tspan></text>
<text x="233.9" y="886.8" font-size="12" font-weight="normal" stroke="#000" stroke-width="0.4" textLength="49.4" lengthAdjust="spacingAndGlyphs">CD4<tspan dy="-3.6" font-size="11.04">+</tspan><tspan dy="3.6" font-size="12">/8</tspan><tspan dy="-4.56" font-size="9.36">-</tspan></text>
<text x="290.4" y="886.8" font-size="12" font-weight="normal" stroke="#000" stroke-width="0.4" textLength="52.2" lengthAdjust="spacingAndGlyphs">CD4<tspan dy="-3.6" font-size="11.04">+</tspan><tspan dy="3.6" font-size="12">/8</tspan><tspan dy="-3.6" font-size="11.04">+</tspan></text>
<text x="350.2" y="886.8" font-size="12" font-weight="normal" stroke="#000" stroke-width="0.4" textLength="51.6" lengthAdjust="spacingAndGlyphs">CD4<tspan dy="-3.6" font-size="11.04">+</tspan><tspan dy="3.6" font-size="12">/8</tspan><tspan dy="-3.6" font-size="11.04">+</tspan></text>
<text x="408.5" y="886.8" font-size="12" font-weight="normal" stroke="#000" stroke-width="0.4" textLength="48.3" lengthAdjust="spacingAndGlyphs">CD4<tspan dy="-3.6" font-size="11.04">+</tspan><tspan dy="3.6" font-size="12">/8</tspan><tspan dy="-4.56" font-size="9.36">-</tspan></text>
<text x="463.5" y="886.8" font-size="12" font-weight="normal" stroke="#000" stroke-width="0.4" textLength="46.2" lengthAdjust="spacingAndGlyphs">CD4<tspan dy="-4.56" font-size="9.36">-</tspan><tspan dy="4.56" font-size="12">/8</tspan><tspan dy="-3.6" font-size="11.04">+</tspan></text>
<line x1="104" y1="893.9" x2="218.3" y2="893.9" stroke="#000" stroke-width="1.8"/>
<line x1="227.2" y1="893.9" x2="341" y2="893.9" stroke="#000" stroke-width="1.8"/>
<line x1="348.6" y1="893.9" x2="518" y2="893.9" stroke="#000" stroke-width="1.8"/>
<text x="147.2" y="910.8" font-size="14.2" font-weight="normal" stroke="#000" stroke-width="0.4" textLength="31.9" lengthAdjust="spacingAndGlyphs">CD3<tspan dy="-5.4" font-size="11.08">-</tspan></text>
<text x="250.3" y="911.2" font-size="14.2" font-weight="normal" stroke="#000" stroke-width="0.4" textLength="55.8" lengthAdjust="spacingAndGlyphs">CD3<tspan dy="-4.26" font-size="10.22">-/low</tspan></text>
<text x="417.1" y="910" font-size="14.2" font-weight="normal" stroke="#000" stroke-width="0.4" textLength="36.3" lengthAdjust="spacingAndGlyphs">CD3<tspan dy="-4.26" font-size="13.06">+</tspan></text>
<text x="1.8" y="970.9" font-size="32" font-weight="bold" text-anchor="start" textLength="21.8" lengthAdjust="spacingAndGlyphs">C</text>
<text transform="translate(17.9,1099.6) rotate(-90)" x="0" y="0" font-size="19.5" font-weight="bold" text-anchor="middle" textLength="213.5" lengthAdjust="spacingAndGlyphs">% BCL-2 positive cells</text>
<rect x="61.8" y="982.6" width="449.3" height="216.9" fill="#fff" stroke="#000" stroke-width="1.6"/>
<line x1="57.3" y1="1199.5" x2="61.8" y2="1199.5" stroke="#000" stroke-width="1.4"/>
<text x="54.3" y="1205.26" font-size="16" font-weight="bold" text-anchor="end" >0</text>
<line x1="57.3" y1="1145.42" x2="61.8" y2="1145.42" stroke="#000" stroke-width="1.4"/>
<text x="54.3" y="1151.18" font-size="16" font-weight="bold" text-anchor="end" >25</text>
<line x1="57.3" y1="1091.35" x2="61.8" y2="1091.35" stroke="#000" stroke-width="1.4"/>
<text x="54.3" y="1097.11" font-size="16" font-weight="bold" text-anchor="end" >50</text>
<line x1="57.3" y1="1037.28" x2="61.8" y2="1037.28" stroke="#000" stroke-width="1.4"/>
<text x="54.3" y="1043.04" font-size="16" font-weight="bold" text-anchor="end" >75</text>
<line x1="57.3" y1="983.2" x2="61.8" y2="983.2" stroke="#000" stroke-width="1.4"/>
<text x="54.3" y="991.46" font-size="16" font-weight="bold" text-anchor="end" >100</text>
<rect x="67.9" y="1066.91" width="15.4" height="132.59" fill="#ffffff" stroke="#000" stroke-width="1.4"/>
<rect x="83.3" y="1042.9" width="15.4" height="156.6" fill="#cacaca" stroke="#000" stroke-width="1.4"/>
<rect x="98.7" y="1046.58" width="15.4" height="152.92" fill="#848484" stroke="#000" stroke-width="1.4"/>
<rect x="114.1" y="1026.68" width="15.4" height="172.82" fill="#0c0c0c" stroke="#000" stroke-width="1.4"/>
<line x1="75.6" y1="1039.22" x2="75.6" y2="1095.46" stroke="#fff" stroke-width="3.4"/>
<line x1="75.6" y1="1039.22" x2="75.6" y2="1095.46" stroke="#000" stroke-width="1.3"/>
<line x1="70" y1="1039.22" x2="81.2" y2="1039.22" stroke="#000" stroke-width="1.5"/>
<line x1="70" y1="1095.46" x2="81.2" y2="1095.46" stroke="#000" stroke-width="1.5"/>
<line x1="106.4" y1="1025.38" x2="106.4" y2="1064.53" stroke="#fff" stroke-width="3.4"/>
<line x1="106.4" y1="1025.38" x2="106.4" y2="1064.53" stroke="#000" stroke-width="1.3"/>
<line x1="100.8" y1="1025.38" x2="112" y2="1025.38" stroke="#000" stroke-width="1.5"/>
<line x1="100.8" y1="1064.53" x2="112" y2="1064.53" stroke="#000" stroke-width="1.5"/>
<line x1="121.8" y1="1011.75" x2="121.8" y2="1026.68" stroke="#fff" stroke-width="3.4"/>
<line x1="121.8" y1="1011.75" x2="121.8" y2="1026.68" stroke="#000" stroke-width="1.3"/>
<line x1="116.2" y1="1011.75" x2="127.4" y2="1011.75" stroke="#000" stroke-width="1.5"/>
<rect x="142.78" y="1127.47" width="15.4" height="72.03" fill="#ffffff" stroke="#000" stroke-width="1.4"/>
<rect x="158.18" y="1079.24" width="15.4" height="120.26" fill="#cacaca" stroke="#000" stroke-width="1.4"/>
<rect x="173.58" y="1077.51" width="15.4" height="121.99" fill="#848484" stroke="#000" stroke-width="1.4"/>
<rect x="188.98" y="1024.51" width="15.4" height="174.99" fill="#0c0c0c" stroke="#000" stroke-width="1.4"/>
<line x1="165.88" y1="1064.96" x2="165.88" y2="1093.08" stroke="#fff" stroke-width="3.4"/>
<line x1="165.88" y1="1064.96" x2="165.88" y2="1093.08" stroke="#000" stroke-width="1.3"/>
<line x1="160.28" y1="1064.96" x2="171.48" y2="1064.96" stroke="#000" stroke-width="1.5"/>
<line x1="160.28" y1="1093.08" x2="171.48" y2="1093.08" stroke="#000" stroke-width="1.5"/>
<line x1="181.28" y1="1053.71" x2="181.28" y2="1100" stroke="#fff" stroke-width="3.4"/>
<line x1="181.28" y1="1053.71" x2="181.28" y2="1100" stroke="#000" stroke-width="1.3"/>
<line x1="175.68" y1="1053.71" x2="186.88" y2="1053.71" stroke="#000" stroke-width="1.5"/>
<line x1="175.68" y1="1100" x2="186.88" y2="1100" stroke="#000" stroke-width="1.5"/>
<line x1="196.68" y1="1007.43" x2="196.68" y2="1024.51" stroke="#fff" stroke-width="3.4"/>
<line x1="196.68" y1="1007.43" x2="196.68" y2="1024.51" stroke="#000" stroke-width="1.3"/>
<line x1="191.08" y1="1007.43" x2="202.28" y2="1007.43" stroke="#000" stroke-width="1.5"/>
<rect x="217.66" y="1181.55" width="15.4" height="17.95" fill="#ffffff" stroke="#000" stroke-width="1.4"/>
<rect x="233.06" y="1186.31" width="15.4" height="13.19" fill="#cacaca" stroke="#000" stroke-width="1.4"/>
<rect x="248.46" y="1183.06" width="15.4" height="16.44" fill="#848484" stroke="#000" stroke-width="1.4"/>
<rect x="263.86" y="1153.21" width="15.4" height="46.29" fill="#0c0c0c" stroke="#000" stroke-width="1.4"/>
<line x1="225.36" y1="1172.9" x2="225.36" y2="1190.2" stroke="#fff" stroke-width="3.4"/>
<line x1="225.36" y1="1172.9" x2="225.36" y2="1190.2" stroke="#000" stroke-width="1.3"/>
<line x1="219.76" y1="1172.9" x2="230.96" y2="1172.9" stroke="#000" stroke-width="1.5"/>
<line x1="219.76" y1="1190.2" x2="230.96" y2="1190.2" stroke="#000" stroke-width="1.5"/>
<line x1="240.76" y1="1183.93" x2="240.76" y2="1188.68" stroke="#fff" stroke-width="3.4"/>
<line x1="240.76" y1="1183.93" x2="240.76" y2="1188.68" stroke="#000" stroke-width="1.3"/>
<line x1="235.16" y1="1183.93" x2="246.36" y2="1183.93" stroke="#000" stroke-width="1.5"/>
<line x1="235.16" y1="1188.68" x2="246.36" y2="1188.68" stroke="#000" stroke-width="1.5"/>
<line x1="256.16" y1="1178.52" x2="256.16" y2="1187.6" stroke="#fff" stroke-width="3.4"/>
<line x1="256.16" y1="1178.52" x2="256.16" y2="1187.6" stroke="#000" stroke-width="1.3"/>
<line x1="250.56" y1="1178.52" x2="261.76" y2="1178.52" stroke="#000" stroke-width="1.5"/>
<line x1="250.56" y1="1187.6" x2="261.76" y2="1187.6" stroke="#000" stroke-width="1.5"/>
<line x1="271.56" y1="1140.67" x2="271.56" y2="1153.21" stroke="#fff" stroke-width="3.4"/>
<line x1="271.56" y1="1140.67" x2="271.56" y2="1153.21" stroke="#000" stroke-width="1.3"/>
<line x1="265.96" y1="1140.67" x2="277.16" y2="1140.67" stroke="#000" stroke-width="1.5"/>
<rect x="292.54" y="1174.41" width="15.4" height="25.09" fill="#ffffff" stroke="#000" stroke-width="1.4"/>
<rect x="307.94" y="1180.68" width="15.4" height="18.82" fill="#cacaca" stroke="#000" stroke-width="1.4"/>
<rect x="323.34" y="1171.6" width="15.4" height="27.9" fill="#848484" stroke="#000" stroke-width="1.4"/>
<rect x="338.74" y="1146.72" width="15.4" height="52.78" fill="#0c0c0c" stroke="#000" stroke-width="1.4"/>
<line x1="300.24" y1="1163.81" x2="300.24" y2="1185.44" stroke="#fff" stroke-width="3.4"/>
<line x1="300.24" y1="1163.81" x2="300.24" y2="1185.44" stroke="#000" stroke-width="1.3"/>
<line x1="294.64" y1="1163.81" x2="305.84" y2="1163.81" stroke="#000" stroke-width="1.5"/>
<line x1="294.64" y1="1185.44" x2="305.84" y2="1185.44" stroke="#000" stroke-width="1.5"/>
<line x1="315.64" y1="1177" x2="315.64" y2="1183.71" stroke="#fff" stroke-width="3.4"/>
<line x1="315.64" y1="1177" x2="315.64" y2="1183.71" stroke="#000" stroke-width="1.3"/>
<line x1="310.04" y1="1177" x2="321.24" y2="1177" stroke="#000" stroke-width="1.5"/>
<line x1="310.04" y1="1183.71" x2="321.24" y2="1183.71" stroke="#000" stroke-width="1.5"/>
<line x1="331.04" y1="1167.7" x2="331.04" y2="1174.84" stroke="#fff" stroke-width="3.4"/>
<line x1="331.04" y1="1167.7" x2="331.04" y2="1174.84" stroke="#000" stroke-width="1.3"/>
<line x1="325.44" y1="1167.7" x2="336.64" y2="1167.7" stroke="#000" stroke-width="1.5"/>
<line x1="325.44" y1="1174.84" x2="336.64" y2="1174.84" stroke="#000" stroke-width="1.5"/>
<line x1="346.44" y1="1139.37" x2="346.44" y2="1146.72" stroke="#fff" stroke-width="3.4"/>
<line x1="346.44" y1="1139.37" x2="346.44" y2="1146.72" stroke="#000" stroke-width="1.3"/>
<line x1="340.84" y1="1139.37" x2="352.04" y2="1139.37" stroke="#000" stroke-width="1.5"/>
<rect x="367.42" y="991.85" width="15.4" height="207.65" fill="#ffffff" stroke="#000" stroke-width="1.4"/>
<rect x="382.82" y="994.01" width="15.4" height="205.49" fill="#cacaca" stroke="#000" stroke-width="1.4"/>
<rect x="398.22" y="988.17" width="15.4" height="211.33" fill="#848484" stroke="#000" stroke-width="1.4"/>
<rect x="413.62" y="983.63" width="15.4" height="215.87" fill="#0c0c0c" stroke="#000" stroke-width="1.4"/>
<line x1="375.12" y1="986.66" x2="375.12" y2="994.01" stroke="#fff" stroke-width="3.4"/>
<line x1="375.12" y1="986.66" x2="375.12" y2="994.01" stroke="#000" stroke-width="1.3"/>
<line x1="369.52" y1="986.66" x2="380.72" y2="986.66" stroke="#000" stroke-width="1.5"/>
<line x1="369.52" y1="994.01" x2="380.72" y2="994.01" stroke="#000" stroke-width="1.5"/>
<line x1="390.52" y1="990.99" x2="390.52" y2="994.88" stroke="#fff" stroke-width="3.4"/>
<line x1="390.52" y1="990.99" x2="390.52" y2="994.88" stroke="#000" stroke-width="1.3"/>
<line x1="384.92" y1="990.99" x2="396.12" y2="990.99" stroke="#000" stroke-width="1.5"/>
<line x1="384.92" y1="994.88" x2="396.12" y2="994.88" stroke="#000" stroke-width="1.5"/>
<rect x="442.3" y="1049.82" width="15.4" height="149.68" fill="#ffffff" stroke="#000" stroke-width="1.4"/>
<rect x="457.7" y="1048.74" width="15.4" height="150.76" fill="#cacaca" stroke="#000" stroke-width="1.4"/>
<rect x="473.1" y="1052.85" width="15.4" height="146.65" fill="#848484" stroke="#000" stroke-width="1.4"/>
<rect x="488.5" y="1015.64" width="15.4" height="183.86" fill="#0c0c0c" stroke="#000" stroke-width="1.4"/>
<line x1="450" y1="1036.41" x2="450" y2="1063.23" stroke="#fff" stroke-width="3.4"/>
<line x1="450" y1="1036.41" x2="450" y2="1063.23" stroke="#000" stroke-width="1.3"/>
<line x1="444.4" y1="1036.41" x2="455.6" y2="1036.41" stroke="#000" stroke-width="1.5"/>
<line x1="444.4" y1="1063.23" x2="455.6" y2="1063.23" stroke="#000" stroke-width="1.5"/>
<line x1="465.4" y1="1034.46" x2="465.4" y2="1063.01" stroke="#fff" stroke-width="3.4"/>
<line x1="465.4" y1="1034.46" x2="465.4" y2="1063.01" stroke="#000" stroke-width="1.3"/>
<line x1="459.8" y1="1034.46" x2="471" y2="1034.46" stroke="#000" stroke-width="1.5"/>
<line x1="459.8" y1="1063.01" x2="471" y2="1063.01" stroke="#000" stroke-width="1.5"/>
<line x1="480.8" y1="1046.79" x2="480.8" y2="1055.44" stroke="#fff" stroke-width="3.4"/>
<line x1="480.8" y1="1046.79" x2="480.8" y2="1055.44" stroke="#000" stroke-width="1.3"/>
<line x1="475.2" y1="1046.79" x2="486.4" y2="1046.79" stroke="#000" stroke-width="1.5"/>
<line x1="475.2" y1="1055.44" x2="486.4" y2="1055.44" stroke="#000" stroke-width="1.5"/>
<line x1="496.2" y1="1005.7" x2="496.2" y2="1015.64" stroke="#fff" stroke-width="3.4"/>
<line x1="496.2" y1="1005.7" x2="496.2" y2="1015.64" stroke="#000" stroke-width="1.3"/>
<line x1="490.6" y1="1005.7" x2="501.8" y2="1005.7" stroke="#000" stroke-width="1.5"/>
<line x1="61.8" y1="982.6" x2="61.8" y2="1199.5" stroke="#000" stroke-width="1.6"/>
<line x1="61.8" y1="1199.5" x2="511.1" y2="1199.5" stroke="#000" stroke-width="1.6"/>
<text x="69.4" y="1219.3" font-size="14" font-weight="normal" stroke="#000" stroke-width="0.85" textLength="52.2" lengthAdjust="spacingAndGlyphs">CD4<tspan dy="-5.32" font-size="10.92">-</tspan><tspan dy="5.32" font-size="14">/8</tspan><tspan dy="-5.32" font-size="10.92">-</tspan></text>
<text x="133.4" y="1219.3" font-size="14" font-weight="normal" stroke="#000" stroke-width="0.85" textLength="74.6" lengthAdjust="spacingAndGlyphs">CD4<tspan dy="-4.2" font-size="11.2">low/+</tspan><tspan dy="4.2" font-size="14">/8</tspan><tspan dy="-5.32" font-size="10.92">-</tspan></text>
<text x="220.4" y="1219.3" font-size="14" font-weight="normal" stroke="#000" stroke-width="0.85" textLength="64.5" lengthAdjust="spacingAndGlyphs">CD4<tspan dy="-4.2" font-size="12.88">+</tspan><tspan dy="4.2" font-size="14">/8</tspan><tspan dy="-4.2" font-size="12.88">+</tspan></text>
<text x="290.9" y="1219.3" font-size="14" font-weight="normal" stroke="#000" stroke-width="0.85" textLength="58.6" lengthAdjust="spacingAndGlyphs">CD4<tspan dy="-4.2" font-size="12.88">+</tspan><tspan dy="4.2" font-size="14">/8</tspan><tspan dy="-4.2" font-size="12.88">+</tspan></text>
<text x="369.4" y="1219.3" font-size="14" font-weight="normal" stroke="#000" stroke-width="0.85" textLength="56.3" lengthAdjust="spacingAndGlyphs">CD4<tspan dy="-4.2" font-size="12.88">+</tspan><tspan dy="4.2" font-size="14">/8</tspan><tspan dy="-5.32" font-size="10.92">-</tspan></text>
<text x="443.2" y="1219.3" font-size="14" font-weight="normal" stroke="#000" stroke-width="0.85" textLength="54" lengthAdjust="spacingAndGlyphs">CD4<tspan dy="-5.32" font-size="10.92">-</tspan><tspan dy="5.32" font-size="14">/8</tspan><tspan dy="-4.2" font-size="12.88">+</tspan></text>
<line x1="78.8" y1="1225" x2="201.2" y2="1225" stroke="#000" stroke-width="1.8"/>
<line x1="218.5" y1="1225" x2="285.8" y2="1225" stroke="#000" stroke-width="1.8"/>
<line x1="298.5" y1="1225" x2="510.7" y2="1225" stroke="#000" stroke-width="1.8"/>
<text x="126" y="1240.2" font-size="14" font-weight="normal" stroke="#000" stroke-width="0.85" textLength="33.8" lengthAdjust="spacingAndGlyphs">CD3<tspan dy="-5.32" font-size="10.92">-</tspan></text>
<text x="225" y="1241.2" font-size="13" font-weight="normal" stroke="#000" stroke-width="0.85" textLength="56" lengthAdjust="spacingAndGlyphs">CD3<tspan dy="-3.9" font-size="9.36">-/low</tspan></text>
<text x="382" y="1243.5" font-size="14" font-weight="normal" stroke="#000" stroke-width="0.85" textLength="36.6" lengthAdjust="spacingAndGlyphs">CD3<tspan dy="-4.2" font-size="12.88">+</tspan></text>
<rect x="370" y="1260.8" width="18.5" height="16.2" fill="#ffffff" stroke="#000" stroke-width="1.3"/>
<rect x="370" y="1280.6" width="18.5" height="16.2" fill="#cacaca" stroke="#000" stroke-width="1.3"/>
<rect x="370" y="1299.6" width="18.5" height="16.2" fill="#848484" stroke="#000" stroke-width="1.3"/>
<rect x="370" y="1319.2" width="18.5" height="16.2" fill="#0c0c0c" stroke="#000" stroke-width="1.3"/>
<text x="398" y="1276" font-size="16.5" font-weight="normal" stroke="#000" stroke-width="0.8" text-anchor="start" textLength="45" lengthAdjust="spacingAndGlyphs">None</text>
<text x="398" y="1295.6" font-size="16.5" font-weight="normal" stroke="#000" stroke-width="0.8" text-anchor="start" textLength="32.8" lengthAdjust="spacingAndGlyphs">IL-7</text>
<text x="440" y="1295.6" font-size="16.5" font-weight="normal" stroke="#000" stroke-width="0.8" text-anchor="start" textLength="68.2" lengthAdjust="spacingAndGlyphs">1 ng/mL</text>
<text x="437.3" y="1315.5" font-size="16.5" font-weight="normal" stroke="#000" stroke-width="0.8" text-anchor="start" textLength="77.7" lengthAdjust="spacingAndGlyphs">10 ng/mL</text>
<text x="437.3" y="1333.5" font-size="16.5" font-weight="normal" stroke="#000" stroke-width="0.8" text-anchor="start" textLength="77.7" lengthAdjust="spacingAndGlyphs">50 ng/mL</text>
</svg></body></html>
